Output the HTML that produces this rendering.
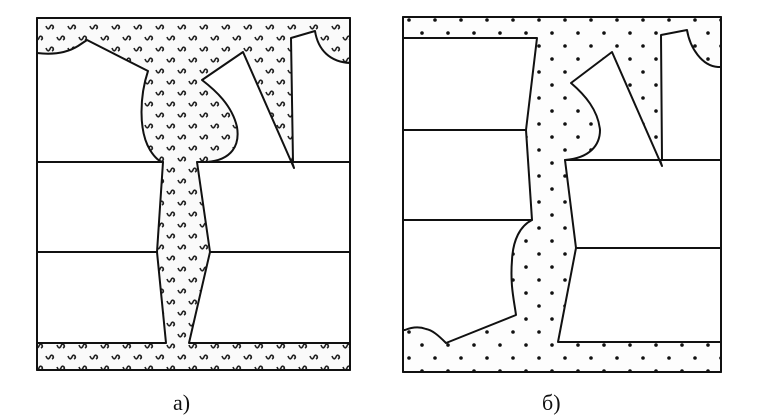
<!DOCTYPE html>
<html><head><meta charset="utf-8"><style>
html,body{margin:0;padding:0;background:#fff;}
svg{display:block;}
</style></head><body>
<svg width="766" height="418" viewBox="0 0 766 418" xmlns="http://www.w3.org/2000/svg">
<defs>
<pattern id="curl" width="22" height="22" patternUnits="userSpaceOnUse">
<rect width="22" height="22" fill="#fafafa"/>
<path d="M2,4 q2,5 4,1 q1,-3 3,-1 q1,2 -1,3 M13,15 q2,5 4,1 q1,-3 3,-1 q1,2 -1,3" stroke="#222" stroke-width="1.6" fill="none"/>
</pattern>
<pattern id="dots" width="26" height="26" patternUnits="userSpaceOnUse">
<rect width="26" height="26" fill="#fdfdfd"/>
<circle cx="6" cy="7" r="1.8" fill="#111"/>
<circle cx="19" cy="20" r="1.8" fill="#111"/>
</pattern>
</defs>
<g stroke="#111" stroke-width="2" stroke-linejoin="round">
<rect x="37" y="18" width="313" height="352" fill="url(#curl)"/>
<path d="M37,53 Q62,56 78,46 L87,40 L148,71 C140,95 138,130 150,150 C155,158 160,162 163,162 L37,162 Z" fill="#fff"/>
<path d="M37,162 L163,162 L157,252 L37,252 Z" fill="#fff"/>
<path d="M37,252 L157,252 L166,343 L37,343 Z" fill="#fff"/>
<path d="M197,162 L350,162 L350,252 L210,252 Z" fill="#fff"/>
<path d="M210,252 L350,252 L350,343 L189,343 Z" fill="#fff"/>
<path d="M202,80 L243,52 L294,168 L292,162 L207,162 C232,160 240,145 237,127 C232,105 215,90 202,80 Z" fill="#fff"/>
<path d="M291,38 L315,31 C318,50 330,62 350,63 L350,162 L293,162 Z" fill="#fff"/>
<rect x="37" y="18" width="313" height="352" fill="none"/>
<rect x="403" y="17" width="318" height="355" fill="url(#dots)"/>
<path d="M403,38 L537,38 L526,130 L403,130 Z" fill="#fff"/>
<path d="M403,130 L526,130 L532,220 L403,220 Z" fill="#fff"/>
<path d="M403,220 L532,220 C520,226 513,240 512,260 C510,285 514,300 516,315 L446,343 C438,335 432,330 426,329 C418,326 410,328 405,330 L403,330 Z" fill="#fff"/>
<path d="M565,160 L721,160 L721,248 L576,248 Z" fill="#fff"/>
<path d="M576,248 L721,248 L721,342 L558,342 Z" fill="#fff"/>
<path d="M571,83 L612,52 L662,166 L660,160 L565,160 C590,158 600,145 600,130 C598,110 585,95 571,83 Z" fill="#fff"/>
<path d="M661,35 L687,30 C690,48 702,66 718,67 L721,67 L721,160 L662,160 Z" fill="#fff"/>
<rect x="403" y="17" width="318" height="355" fill="none"/>
</g>
<text x="173" y="410" font-family="'Liberation Serif',serif" font-size="22" fill="#111">а)</text>
<text x="542" y="410" font-family="'Liberation Serif',serif" font-size="22" fill="#111">б)</text>
</svg>
</body></html>
